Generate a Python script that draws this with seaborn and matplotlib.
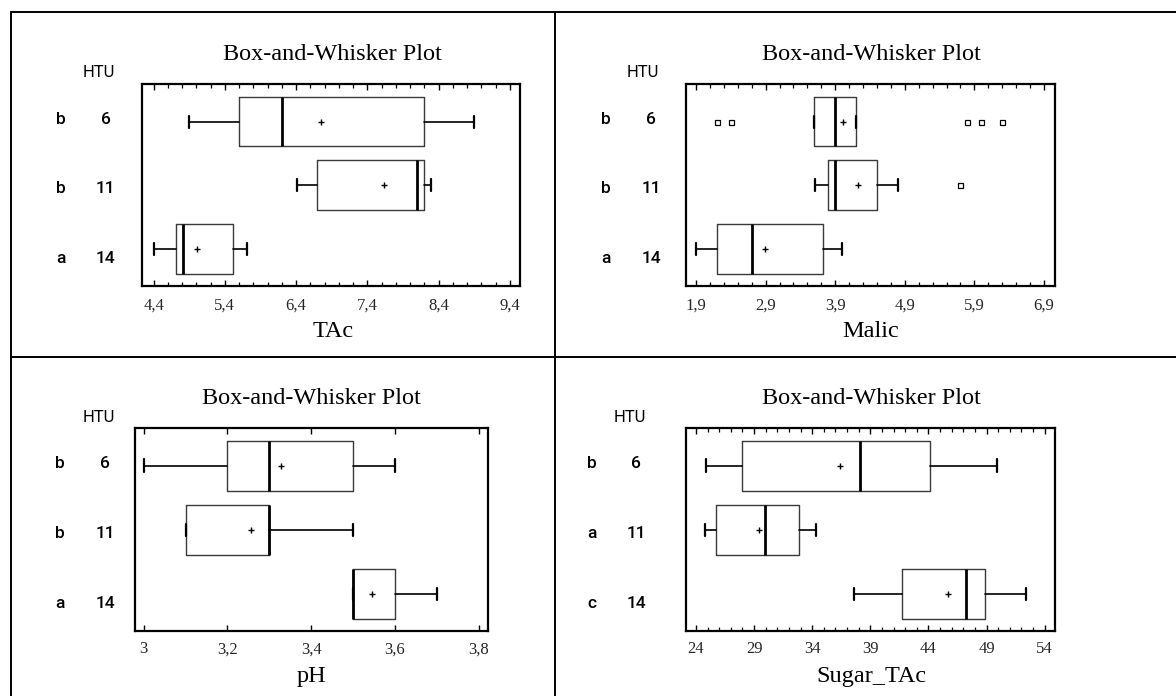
import numpy as np
import pandas as pd
import matplotlib
matplotlib.use("Agg")
import matplotlib.pyplot as plt
import matplotlib.transforms as mtransforms
from matplotlib.lines import Line2D
from matplotlib.ticker import FixedLocator
import seaborn as sns

# ---------------- data ----------------
groups = ["6", "11", "14"]

tac_letters = ["b", "b", "a"]
tac_whislo = [4.90, 6.41, 4.40]
tac_q1 = [5.60, 6.69, 4.71]
tac_med = [6.20, 8.09, 4.81]
tac_q3 = [8.20, 8.20, 5.52]
tac_whishi = [8.90, 8.29, 5.71]
tac_mean = [6.75, 7.63, 5.01]
tac_fliers = [[], [], []]
tac_ticks = [4.4, 5.4, 6.4, 7.4, 8.4, 9.4]
tac_ticklabels = ["4,4", "5,4", "6,4", "7,4", "8,4", "9,4"]

malic_letters = ["b", "b", "a"]
malic_whislo = [3.60, 3.61, 1.90]
malic_q1 = [3.60, 3.79, 2.20]
malic_med = [3.90, 3.90, 2.71]
malic_q3 = [4.20, 4.50, 3.72]
malic_whishi = [4.20, 4.80, 4.00]
malic_mean = [4.01, 4.23, 2.89]
malic_fliers = [[2.2, 2.4, 5.8, 6.0, 6.3], [5.69], []]
malic_ticks = [1.9, 2.9, 3.9, 4.9, 5.9, 6.9]
malic_ticklabels = ["1,9", "2,9", "3,9", "4,9", "5,9", "6,9"]

ph_letters = ["b", "b", "a"]
ph_whislo = [3.00, 3.10, 3.50]
ph_q1 = [3.20, 3.10, 3.50]
ph_med = [3.30, 3.30, 3.50]
ph_q3 = [3.50, 3.30, 3.60]
ph_whishi = [3.60, 3.50, 3.70]
ph_mean = [3.327, 3.257, 3.546]
ph_fliers = [[], [], []]
ph_ticks = [3.0, 3.2, 3.4, 3.6, 3.8]
ph_ticklabels = ["3", "3,2", "3,4", "3,6", "3,8"]

sug_letters = ["b", "a", "c"]
sug_whislo = [24.9, 24.8, 37.6]
sug_q1 = [28.0, 25.7, 41.7]
sug_med = [38.1, 29.9, 47.2]
sug_q3 = [44.1, 32.9, 48.9]
sug_whishi = [49.9, 34.3, 52.4]
sug_mean = [36.4, 29.4, 45.7]
sug_fliers = [[], [], []]
sug_ticks = [24, 29, 34, 39, 44, 49, 54]
sug_ticklabels = ["24", "29", "34", "39", "44", "49", "54"]

# ---------------- style ----------------
sns.set_style("white")
SERIF = ["Liberation Serif", "DejaVu Serif"]
SANS = ["Roboto", "DejaVu Sans"]
plt.rcParams["font.family"] = SERIF

W, H = 1176, 696
fig = plt.figure(figsize=(W / 100, H / 100), dpi=100)
fig.patch.set_facecolor("white")


def fx(px):
    return px / W


def fy(py):
    return 1 - py / H


# panel frame lines
frame_kw = dict(color="black", lw=1.4, transform=fig.transFigure)
fig.add_artist(Line2D([fx(10.7), 1.0], [fy(12), fy(12)], **frame_kw))
fig.add_artist(Line2D([fx(10.7), fx(10.7)], [fy(12), 0.0], **frame_kw))
fig.add_artist(Line2D([fx(555), fx(555)], [fy(12), 0.0], **frame_kw))
fig.add_artist(Line2D([fx(10.7), 1.0], [fy(356.7), fy(356.7)], **frame_kw))

panels = [
    dict(name="TAc", rect=(142.3, 84, 520.3, 286), xlim=(4.241, 9.547),
         letters=tac_letters, whislo=tac_whislo, q1=tac_q1, med=tac_med, q3=tac_q3,
         whishi=tac_whishi, mean=tac_mean, fliers=tac_fliers,
         ticks=tac_ticks, ticklabels=tac_ticklabels,
         minor=np.arange(4.4, 9.41, 0.2), letter_x=61, num_x=105.5, htu_x=99,
         title_x=332.7, title_base=60, htu_base=77.3, xlabel_base=337.3, pad=8.2),
    dict(name="Malic", rect=(685.5, 84, 1055.2, 286), xlim=(1.749, 7.061),
         letters=malic_letters, whislo=malic_whislo, q1=malic_q1, med=malic_med, q3=malic_q3,
         whishi=malic_whishi, mean=malic_mean, fliers=malic_fliers,
         ticks=malic_ticks, ticklabels=malic_ticklabels,
         minor=np.arange(1.9, 6.91, 0.2), letter_x=606, num_x=651, htu_x=643.3,
         title_x=871, title_base=60, htu_base=77.3, xlabel_base=337.3, pad=8.2),
    dict(name="pH", rect=(134.7, 427.7, 488.3, 631), xlim=(2.9785, 3.823),
         letters=ph_letters, whislo=ph_whislo, q1=ph_q1, med=ph_med, q3=ph_q3,
         whishi=ph_whishi, mean=ph_mean, fliers=ph_fliers,
         ticks=ph_ticks, ticklabels=ph_ticklabels,
         minor=None, letter_x=60, num_x=105, htu_x=99,
         title_x=311.5, title_base=404.3, htu_base=421.7, xlabel_base=681.7, pad=7.4),
    dict(name="Sugar_TAc", rect=(685.5, 427.7, 1055.2, 631), xlim=(23.10, 54.90),
         letters=sug_letters, whislo=sug_whislo, q1=sug_q1, med=sug_med, q3=sug_q3,
         whishi=sug_whishi, mean=sug_mean, fliers=sug_fliers,
         ticks=sug_ticks, ticklabels=sug_ticklabels,
         minor=np.arange(24, 54.1, 1.0), letter_x=592, num_x=636.4, htu_x=630,
         title_x=871, title_base=404.3, htu_base=421.7, xlabel_base=681.7, pad=7.4),
]

positions = [0, 1, 2]

for p in panels:
    l, t, r, b = p["rect"]
    ax = fig.add_axes([fx(l), fy(b), (r - l) / W, (b - t) / H])
    ax.set_facecolor("white")

    stats = []
    for i, g in enumerate(groups):
        stats.append(dict(label=g, whislo=p["whislo"][i], q1=p["q1"][i], med=p["med"][i],
                          q3=p["q3"][i], whishi=p["whishi"][i], fliers=p["fliers"][i]))

    bkw = dict(positions=positions, widths=0.78, capwidths=0.19, showfliers=True,
               patch_artist=False, manage_ticks=False,
               boxprops=dict(color="#3a3a3a", lw=1.0),
               medianprops=dict(color="black", lw=2.0),
               whiskerprops=dict(color="black", lw=1.2),
               capprops=dict(color="black", lw=1.6),
               flierprops=dict(marker="s", markersize=3.6, markerfacecolor="white",
                               markeredgecolor="black", markeredgewidth=0.9, linestyle="none"))
    try:
        ax.bxp(stats, orientation="horizontal", **bkw)
    except TypeError:
        ax.bxp(stats, vert=False, **bkw)

    sns.scatterplot(x=p["mean"], y=positions, marker="+", color="black", s=22,
                    linewidth=1.0, ax=ax, legend=False, zorder=5)

    ax.set_xlim(*p["xlim"])
    ax.set_ylim(2.58, -0.59)
    ax.set_yticks([])
    ax.set_xlabel("")
    ax.set_ylabel("")
    ax.set_xticks(p["ticks"])
    ax.set_xticklabels(p["ticklabels"], fontsize=12, fontfamily=SERIF)
    if p["minor"] is not None:
        ax.xaxis.set_minor_locator(FixedLocator(list(p["minor"])))
    ax.tick_params(axis="x", which="major", direction="in", top=True, bottom=True,
                   length=4.5, width=1.0, pad=p["pad"], color="black")
    ax.tick_params(axis="x", which="minor", direction="in", top=True, bottom=True,
                   length=3, width=0.9, color="black")
    ax.tick_params(axis="y", left=False, right=False)
    for s in ax.spines.values():
        s.set_visible(True)
        s.set_color("black")
        s.set_linewidth(1.6)

    # category labels (letter + HTU value)
    trans = mtransforms.blended_transform_factory(fig.transFigure, ax.transData)
    for i, (g, let) in enumerate(zip(groups, p["letters"])):
        yy = -0.06 + 1.09 * i + 0.097
        ax.text(fx(p["letter_x"]), yy, let, transform=trans, ha="center", va="baseline",
                fontsize=12.5, fontfamily=SANS, fontweight="medium", color="black")
        ax.text(fx(p["num_x"]), yy, g, transform=trans, ha="center", va="baseline",
                fontsize=12.5, fontfamily=SANS, fontweight="medium", color="black")

    fig.text(fx(p["htu_x"]), fy(p["htu_base"]), "HTU", ha="center", va="baseline",
             fontsize=12, fontfamily=SANS, color="black")
    fig.text(fx(p["title_x"]), fy(p["title_base"]), "Box-and-Whisker Plot", ha="center",
             va="baseline", fontsize=17.5, fontfamily=SERIF, color="black")
    fig.text(fx(p["title_x"]), fy(p["xlabel_base"]), p["name"], ha="center",
             va="baseline", fontsize=17.5, fontfamily=SERIF, color="black")

fig.savefig("out.png", dpi=100, facecolor="white")
